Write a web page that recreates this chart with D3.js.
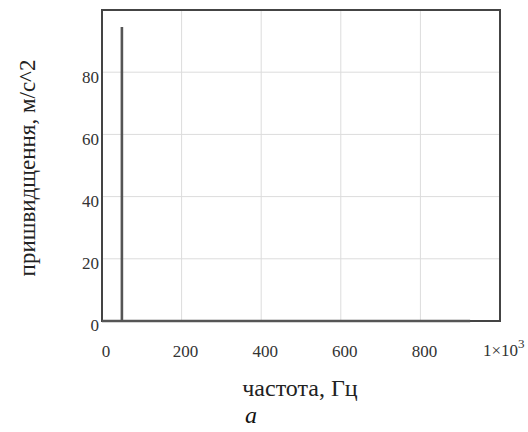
<!DOCTYPE html>
<html><head><meta charset="utf-8">
<script src="https://cdn.jsdelivr.net/npm/d3@7"></script>
<style>body{margin:0;background:#fff}</style>
</head><body>
<svg id="c" width="528" height="432"></svg>
<script>
const freq = [0, 50, 50, 50, 925];
const accel = [0, 0, 94.5, 0, 0];
const xTicks = [0, 200, 400, 600, 800];
const yTicks = [0, 20, 40, 60, 80];
const xLabel = "частота, Гц";
const yLabel = "пришвидщення, м/с^2";
const caption = "a";

const svg = d3.select("#c");
const L = 102, R = 500, T = 10, B = 321;
const x = d3.scaleLinear().domain([0, 1000]).range([L, R]);
const y = d3.scaleLinear().domain([0, 100]).range([B, T]);
const serif = "'Liberation Serif','Times New Roman',serif";

// grid
svg.append("g").selectAll("line").data(xTicks.filter(d => d > 0))
  .join("line").attr("x1", d => x(d)).attr("x2", d => x(d)).attr("y1", T).attr("y2", B)
  .attr("stroke", "#dcdcdc").attr("stroke-width", 1);
svg.append("g").selectAll("line").data(yTicks.filter(d => d > 0))
  .join("line").attr("y1", d => y(d)).attr("y2", d => y(d)).attr("x1", L).attr("x2", R)
  .attr("stroke", "#dcdcdc").attr("stroke-width", 1);

// frame
svg.append("rect").attr("x", L).attr("y", T).attr("width", R - L).attr("height", B - T)
  .attr("fill", "none").attr("stroke", "#444").attr("stroke-width", 2);

// data
const pts = freq.map((f, i) => [f, accel[i]]);
svg.append("path").datum(pts)
  .attr("d", d3.line().x(d => x(d[0])).y(d => y(d[1])))
  .attr("fill", "none").attr("stroke", "#555").attr("stroke-width", 2.6);

// y tick labels
svg.append("g").selectAll("text").data(yTicks).join("text")
  .attr("x", L - 3).attr("y", d => y(d) + 5).attr("dy", "0.32em")
  .attr("text-anchor", "end").attr("font-family", serif).attr("font-size", 17)
  .attr("fill", "#333").text(d => d);

// x tick labels
svg.append("g").selectAll("text").data(xTicks).join("text")
  .attr("x", d => x(d) + 4).attr("y", 352).attr("dy", "0.32em")
  .attr("text-anchor", "middle").attr("font-family", serif).attr("font-size", 17)
  .attr("fill", "#333").text(d => d);
const t = svg.append("text").attr("x", 483).attr("y", 356)
  .attr("font-family", serif).attr("font-size", 17).attr("fill", "#333");
t.append("tspan").text("1×10");
t.append("tspan").attr("dy", -8).attr("font-size", 13).text("3");

// axis titles
svg.append("text").attr("transform", "translate(27,168) rotate(-90)")
  .attr("text-anchor", "middle").attr("dy", "0.35em")
  .attr("font-family", serif).attr("font-size", 23).attr("fill", "#222").text(yLabel);
svg.append("text").attr("x", 300).attr("y", 396)
  .attr("text-anchor", "middle").attr("font-family", serif).attr("font-size", 24)
  .attr("fill", "#222").text(xLabel);
svg.append("text").attr("x", 251).attr("y", 423)
  .attr("text-anchor", "middle").attr("font-family", serif)
  .attr("font-style", "italic").attr("font-size", 24).attr("fill", "#111").text(caption);
</script>
</body></html>
